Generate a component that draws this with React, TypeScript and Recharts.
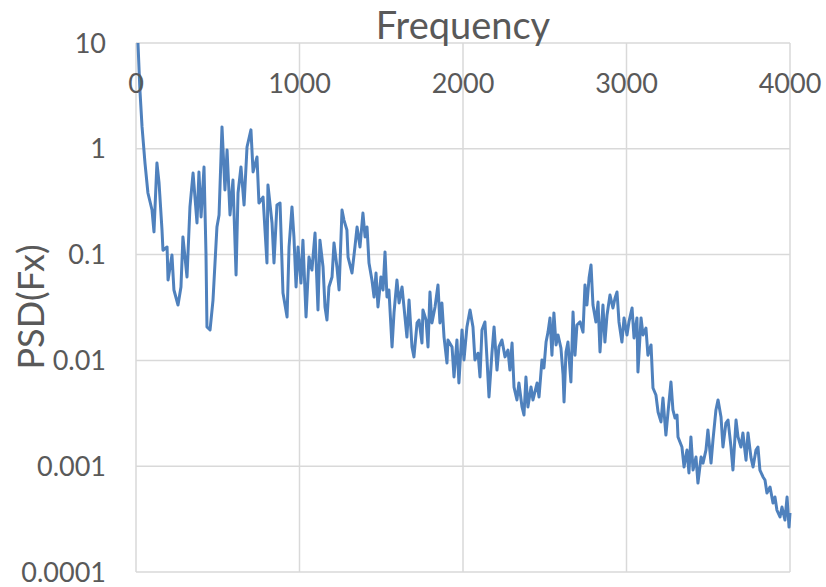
import React from "react";
import { LineChart, Line, XAxis, YAxis, CartesianGrid } from "recharts";

const freq = [
  12, 24, 37, 55, 73, 98, 110, 128, 141, 159, 165, 190, 196, 220, 232, 257, 275, 287, 312, 330,
  349, 373, 385, 398, 416, 428, 434, 453, 471, 495, 508, 526, 544, 557, 575, 593, 612, 624, 642, 661,
  679, 703, 716, 740, 752, 777, 801, 807, 832, 844, 862, 881, 899, 924,
  936, 954, 966, 979, 991, 1009, 1021, 1040, 1058, 1076, 1095, 1113, 1125, 1144, 1156, 1168, 1180, 1199,
  1211, 1229, 1242, 1260, 1272, 1290, 1297, 1321, 1339, 1352, 1370, 1388, 1401, 1413, 1425, 1443, 1456,
  1468, 1480, 1498, 1511, 1523, 1535, 1547, 1566, 1578, 1596, 1609, 1627, 1639,
  1657, 1670, 1688, 1700, 1719, 1731, 1749, 1755, 1774, 1786, 1798, 1810, 1829, 1847, 1859, 1871, 1884,
  1902, 1908, 1933, 1945, 1963, 1975, 1994, 2006, 2024, 2043, 2061, 2073, 2092, 2104, 2116, 2134, 2147,
  2159, 2177, 2190, 2208, 2220, 2238, 2257, 2275, 2287, 2300, 2312, 2330, 2342, 2361, 2373, 2385, 2397,
  2416, 2428, 2453, 2465,
  2483, 2495, 2508, 2520, 2532, 2544, 2556, 2569, 2581, 2599, 2612, 2618, 2630, 2642, 2660, 2673, 2685,
  2697, 2716, 2734, 2746, 2758, 2771, 2783, 2795, 2813, 2826, 2838, 2856, 2868, 2881, 2899, 2917, 2930,
  2942, 2954, 2972, 2985, 3003, 3015, 3034, 3046, 3064, 3070, 3089, 3101, 3119, 3131, 3150, 3162, 3180,
  3193, 3211, 3223, 3241, 3254, 3272, 3284, 3297, 3309,
  3315, 3339, 3352, 3370, 3382, 3394, 3407, 3425, 3437, 3456, 3468, 3486, 3498, 3517, 3529, 3547, 3560,
  3578, 3590, 3608, 3621, 3639, 3651, 3670, 3682, 3700, 3712, 3731, 3743, 3761, 3774, 3792, 3804, 3816,
  3835, 3847, 3859, 3878, 3896, 3908, 3920, 3939, 3951, 3969, 3982, 3994, 4000,
];

const psdFx = [
  10, 3.59, 1.61, 0.734, 0.382, 0.264, 0.164, 0.734, 0.475, 0.171, 0.11, 0.118, 0.0575, 0.0991, 0.0463,
  0.0334, 0.0494, 0.147, 0.0614, 0.282, 0.59, 0.199, 0.604, 0.227, 0.673, 0.1035, 0.0207, 0.0194, 0.0372,
  0.182, 0.237, 1.61, 0.408, 0.973, 0.237, 0.507, 0.0642, 0.382, 0.673, 0.294, 1.04, 1.51, 0.604, 0.836,
  0.307, 0.35, 0.0833, 0.455, 0.199, 0.0833, 0.294, 0.307, 0.0434, 0.0257,
  0.118, 0.282, 0.147, 0.0494, 0.118, 0.0538, 0.137, 0.0257, 0.0948, 0.0715, 0.16, 0.03, 0.137, 0.0764,
  0.032, 0.0241, 0.0494, 0.0614, 0.129, 0.0764, 0.0463, 0.264, 0.212, 0.171, 0.0948, 0.067, 0.118, 0.182,
  0.118, 0.247, 0.147, 0.182, 0.0833, 0.0575, 0.0397, 0.067, 0.032, 0.0614, 0.0463, 0.106, 0.0397,
  0.0463, 0.0134, 0.0281, 0.0575, 0.0349, 0.0494, 0.032,
  0.0166, 0.0372, 0.0134, 0.0108, 0.0226, 0.0241, 0.0146, 0.03, 0.0241, 0.0134, 0.0443, 0.0226, 0.032,
  0.0516, 0.0226, 0.0349, 0.0166, 0.00945, 0.0156, 0.0134, 0.00697, 0.0156, 0.00611, 0.0194, 0.0101,
  0.0207, 0.03, 0.0207, 0.0101, 0.0117, 0.00697, 0.0194, 0.0231, 0.0101, 0.00451, 0.0117, 0.0207,
  0.00811, 0.0134, 0.0156, 0.0108, 0.0125, 0.00811, 0.0146, 0.0056, 0.00423, 0.00611, 0.00363, 0.00305,
  0.00697, 0.00363, 0.0056, 0.00423, 0.00611, 0.00451,
  0.0101, 0.00848, 0.0149, 0.0185, 0.0252, 0.0112, 0.0281, 0.014, 0.0174, 0.0131, 0.00728, 0.00405,
  0.012, 0.0149, 0.00625, 0.0287, 0.0112, 0.0216, 0.0231, 0.0185, 0.0516, 0.0334, 0.0601, 0.0798,
  0.0334, 0.0231, 0.0356, 0.012, 0.0334, 0.0149, 0.0269, 0.0415, 0.0313, 0.0389, 0.0443, 0.0231, 0.0149,
  0.0252, 0.0174, 0.0231, 0.0313, 0.0163, 0.0252, 0.00776, 0.0252, 0.0174, 0.0202, 0.0112, 0.014,
  0.00548, 0.00471, 0.00325, 0.00262, 0.00441, 0.00197, 0.00325, 0.00625, 0.0034, 0.00285, 0.00305,
  0.00189, 0.00152, 0.000982, 0.00142, 0.000863, 0.00189, 0.00092, 0.00122, 0.000693, 0.00122, 0.00107,
  0.00142, 0.0022, 0.00107, 0.00177, 0.0034, 0.00423, 0.00292, 0.00152, 0.00256, 0.00273, 0.00152,
  0.00092, 0.00273, 0.00189, 0.00152, 0.00206, 0.00114, 0.00206, 0.00122, 0.000982, 0.00142, 0.00152,
  0.00092, 0.000791, 0.00074, 0.000558, 0.000635, 0.000449, 0.000511, 0.000385, 0.000331, 0.000411,
  0.00031, 0.000511, 0.000266, 0.000361,
];

const xTicks = [0, 1000, 2000, 3000, 4000];
const yTicks = [0.0001, 0.001, 0.01, 0.1, 1, 10];
const yTickLabels = ["0.0001", "0.001", "0.01", "0.1", "1", "10"];

const data = freq.map((f, i) => ({ f, psd: psdFx[i] }));

const TEXT = "#595959";
const FONT = "Lato, 'Open Sans', sans-serif";

const renderXTick = (props: any) => {
  const { x, payload } = props;
  return (
    <text
      key={`xt-${payload.value}`}
      x={x}
      y={93}
      textAnchor="middle"
      fill={TEXT}
      fontSize={27}
      fontFamily={FONT}
    >
      {payload.value}
    </text>
  );
};

export default function App() {
  return (
    <div style={{ position: "absolute", left: 0, top: 0, width: 826, height: 587, background: "#fff" }}>
      <LineChart
        width={826}
        height={587}
        data={data}
        margin={{ top: 23, right: 36, bottom: 15, left: 0 }}
      >
        <CartesianGrid stroke="#D9D9D9" strokeWidth={1.5} />
        <XAxis
          dataKey="f"
          type="number"
          orientation="top"
          domain={[0, 4000]}
          ticks={xTicks}
          height={20}
          axisLine={false}
          tickLine={false}
          tick={renderXTick}
          interval={0}
        />
        <YAxis
          dataKey="psd"
          type="number"
          scale="log"
          domain={[0.0001, 10]}
          ticks={yTicks}
          allowDataOverflow
          width={136}
          axisLine={false}
          tickLine={false}
          tickSize={0}
          tickMargin={30}
          interval={0}
          tickFormatter={(v: number) => yTickLabels[yTicks.indexOf(v)] ?? String(v)}
          tick={{ fill: TEXT, fontSize: 27, fontFamily: FONT }}
        />
        <Line
          type="linear"
          dataKey="psd"
          stroke="#4F81BD"
          strokeWidth={3}
          strokeLinejoin="round"
          dot={false}
          isAnimationActive={false}
        />
      </LineChart>
      <div
        style={{
          position: "absolute",
          left: 136,
          width: 654,
          top: 2,
          textAlign: "center",
          fontFamily: FONT,
          fontSize: 38,
          color: TEXT,
          lineHeight: "44px",
        }}
      >
        Frequency
      </div>
      <div
        style={{
          position: "absolute",
          left: 30,
          top: 307,
          transform: "translate(-50%, -50%) rotate(-90deg)",
          fontFamily: FONT,
          fontSize: 36,
          color: TEXT,
          whiteSpace: "nowrap",
          lineHeight: "44px",
        }}
      >
        PSD(Fx)
      </div>
    </div>
  );
}
